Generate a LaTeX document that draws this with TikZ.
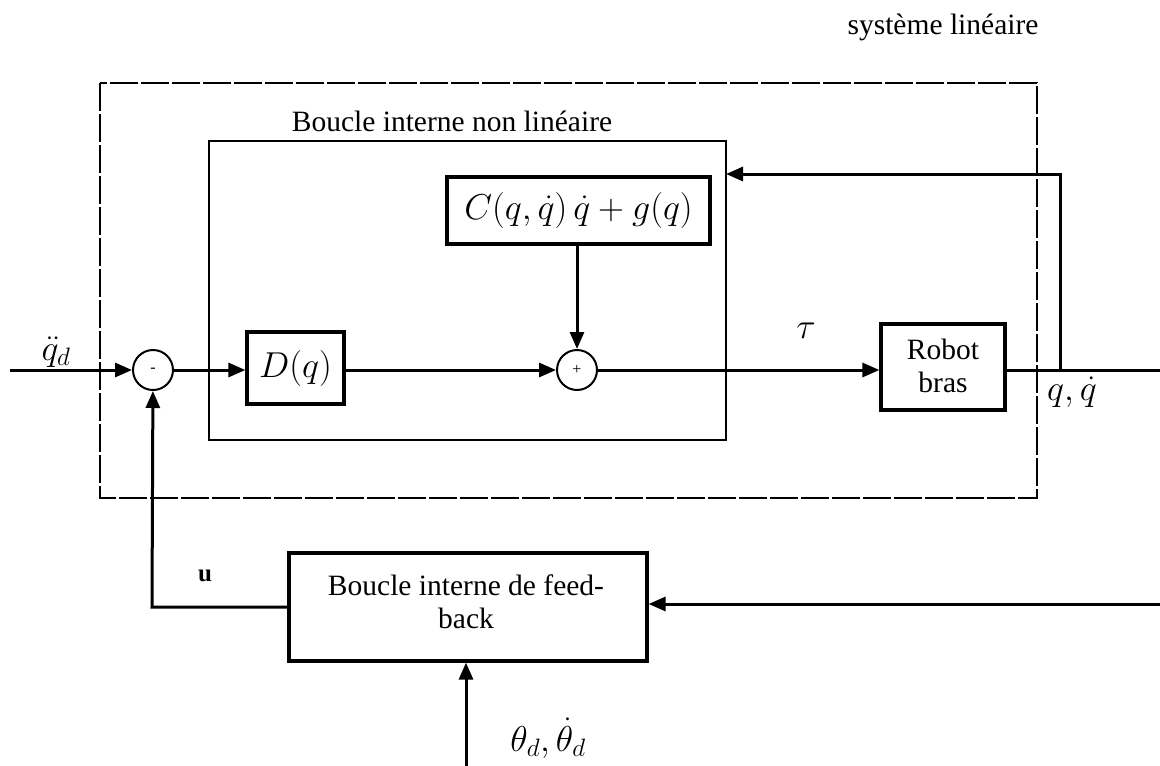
\RequirePackage{fix-cm}
\documentclass[tikz,border=0pt]{standalone}
\usepackage{fontspec}
\setmainfont{Liberation Serif}
\usetikzlibrary{arrows.meta}
\begin{document}
\begin{tikzpicture}[x=1pt,y=-1pt,
  sumc/.style={draw,circle,line width=2pt,inner sep=0pt,font=\fontsize{16}{18}\selectfont},
  conn/.style={line width=3pt,-{Triangle[length=17pt,width=14pt]}},
  wire/.style={line width=3pt},
  lbl/.style={font=\fontsize{29.5}{33}\selectfont},
  mlbl/.style={font=\fontsize{36}{40}\selectfont},
  box/.style={draw,line width=3.2pt,inner sep=0pt}]
\useasboundingbox (0,0) rectangle (1160,766);
% dashed outer
\draw[line width=1.8pt,dash pattern=on 28pt off 3pt] (100,83) rectangle (1037,498);
\node[lbl] (sys) at (943,27) {système linéaire};
% inner
\draw[line width=1.8pt] (209,141) rectangle (726,440);
\node[lbl] (bin) at (452,121) {Boucle interne non linéaire};
% blocks
\node[box,minimum width=263pt,minimum height=67pt,mlbl] (C) at (578.5,210.5) {$C(q,\dot q)\,\dot q+g(q)$};
\node[box,minimum width=97pt,minimum height=72pt,mlbl] (D) at (295.5,368) {$D(q)$};
\node[box,minimum width=124pt,minimum height=86pt] (R) at (943,367) {};
\node[lbl,align=center] (Rt) at (943,366) {Robot\\bras};
\node[box,minimum width=358pt,minimum height=108pt] (F) at (468,607) {};
\node[lbl,align=center] (Ft) at (466,602) {Boucle interne de feed-\\back};
\node[sumc,minimum size=40pt] (m) at (153,370) {-};
\node[sumc,minimum size=40pt] (p) at (577,370) {+};
% coordinates
\coordinate (in) at (10,370);
\coordinate (out) at (1160,370);
\coordinate (br) at (1060,370);
\coordinate (brt) at (1060,174);
\coordinate (ink) at (726,174);
\coordinate (fin) at (1160,604);
\coordinate (ucorner) at (152,607);
\coordinate (thb) at (466,766);
% connectors
\draw[conn] (in) -- (m);
\draw[conn] (m) -- (D.west |- m);
\draw[conn] (D.east |- p) -- (p);
\draw[conn] (C.south -| p) -- (p);
\draw[conn] (p) -- (R.west |- p);
\draw[wire] (R.east |- out) -- (out);
\draw[conn] (br) -- (brt) -- (ink);
\draw[conn] (fin) -- (F.east |- fin);
\draw[conn] (F.west |- ucorner) -- (ucorner) -- (m);
\draw[conn] (thb) -- (F.south -| thb);
% labels
\node[mlbl] (qdd) at (56,352) {$\ddot q_d$};
\node[mlbl] (tau) at (806,331) {$\tau$};
\node[mlbl] (qq) at (1072,392) {$q,\dot q$};
\node[font=\bfseries\fontsize{25}{28}\selectfont] (u) at (205,576) {u};
\node[mlbl] (th) at (548,738) {$\theta_d,\dot\theta_d$};
\end{tikzpicture}
\end{document}
